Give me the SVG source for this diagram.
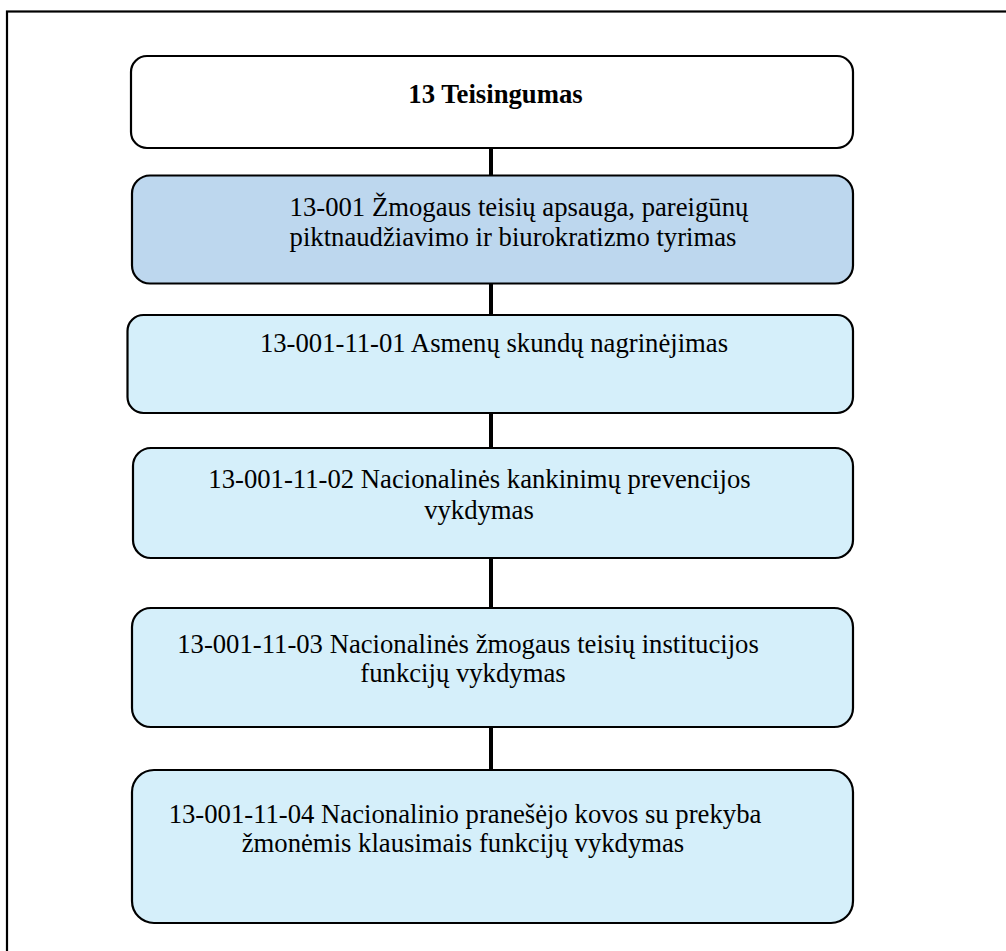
<svg xmlns="http://www.w3.org/2000/svg" width="1006" height="951" viewBox="0 0 1006 951">
<style>
.box{stroke:#000;stroke-width:2.2}
.top{fill:#ffffff}
.l1{fill:#BDD7EE}
.l2{fill:#D5EFFA}
text{font-family:'Liberation Serif','Times New Roman',serif;font-size:26.7px;fill:#000;text-anchor:middle}
.b{font-weight:bold}
.conn{stroke:#000;stroke-width:4;fill:none}
</style>
<rect x="7" y="11.5" width="1010" height="960" fill="#fff" stroke="#000" stroke-width="2.2"/>
<g id="connectors">
<line class="conn" x1="491" y1="148" x2="491" y2="176"/>
<line class="conn" x1="491" y1="283" x2="491" y2="315"/>
<line class="conn" x1="491" y1="413" x2="491" y2="448"/>
<line class="conn" x1="491" y1="558" x2="491" y2="608"/>
<line class="conn" x1="491" y1="727" x2="491" y2="770"/>
</g>
<g id="n0">
<rect class="box top" x="131" y="56" width="722" height="92" rx="16"/>
<text class="b" x="495.5" y="103">13 Teisingumas</text>
</g>
<g id="n1">
<rect class="box l1" x="132" y="175.5" width="721" height="108" rx="18"/>
<text x="519" y="216">13-001 Žmogaus teisių apsauga, pareigūnų</text>
<text x="513" y="246">piktnaudžiavimo ir biurokratizmo tyrimas</text>
</g>
<g id="n2">
<rect class="box l2" x="127.5" y="315" width="725.5" height="98" rx="16"/>
<text x="494" y="352">13-001-11-01 Asmenų skundų nagrinėjimas</text>
</g>
<g id="n3">
<rect class="box l2" x="133" y="448" width="720" height="110" rx="18"/>
<text x="479.5" y="488">13-001-11-02 Nacionalinės kankinimų prevencijos</text>
<text x="479" y="519">vykdymas</text>
</g>
<g id="n4">
<rect class="box l2" x="132" y="608" width="721" height="119" rx="19"/>
<text x="468" y="653">13-001-11-03 Nacionalinės žmogaus teisių institucijos</text>
<text x="463" y="682">funkcijų vykdymas</text>
</g>
<g id="n5">
<rect class="box l2" x="132" y="770" width="721" height="153" rx="22"/>
<text x="465" y="823">13-001-11-04 Nacionalinio pranešėjo kovos su prekyba</text>
<text x="463" y="852">žmonėmis klausimais funkcijų vykdymas</text>
</g>
</svg>
